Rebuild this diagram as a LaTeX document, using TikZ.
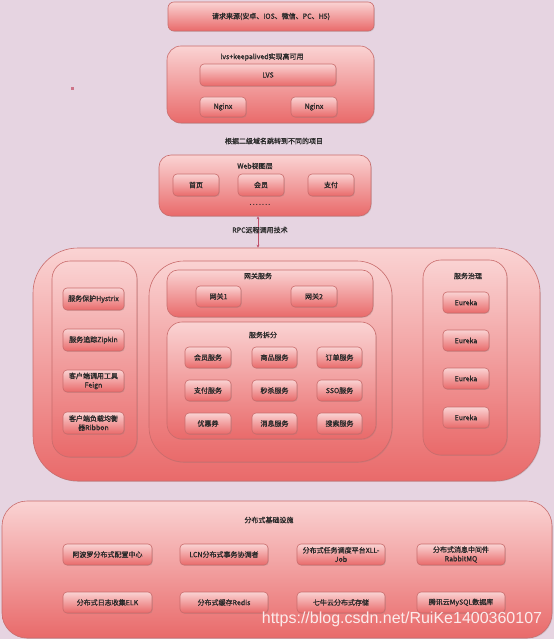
\documentclass[tikz,border=0pt]{standalone}
\usepackage{fontspec}
\setmainfont{Noto Sans CJK SC}[AutoFakeBold=1.2]
\newfontfamily\wmfont{Liberation Sans}
\usetikzlibrary{shadows,arrows.meta}
\definecolor{bg}{HTML}{E6D4E1}
\definecolor{btop}{HTML}{FAD3D3}
\definecolor{bbot}{HTML}{E96A6A}
\definecolor{bline}{HTML}{C96C6C}
\definecolor{txt}{HTML}{2A2A2A}
\definecolor{arr}{HTML}{C0506A}
\tikzset{
  frame/.style={draw=bline, line width=0.6pt, top color=btop, bottom color=bbot, inner sep=0pt,
    drop shadow={shadow xshift=0.8pt, shadow yshift=-0.8pt, opacity=0.25}},
  btn/.style={frame, rounded corners=4pt, font=\fontsize{7}{9}\selectfont\bfseries, text=txt, align=center},
  lbl/.style={font=\fontsize{7}{9}\selectfont\bfseries, text=txt, inner sep=0pt},
}
\newcommand\bx[7][]{\node[#1, minimum width={#5pt-#3pt}, minimum height={#6pt-#4pt}] (#2) at ({(#3+#5)/2},{(#4+#6)/2}) {#7};}
\begin{document}
\begin{tikzpicture}[x=1pt,y=-1pt]
\useasboundingbox (0,0) rectangle (554,639);
\fill[bg] (0,0) rectangle (554,639);
\fill[arr!80] (71,87) rectangle (74,90);

% top
\bx[frame, rounded corners=6pt, font=\fontsize{7}{9}\selectfont\bfseries, text=txt]{src}{168}{2}{374}{31}{请求来源(安卓、IOS、微信、PC、H5)}

% lvs
\bx[frame, rounded corners=14pt]{lvsbox}{167}{46}{374}{123}{}
\node[lbl] (lvst) at (262,57) {lvs+keepalived实现高可用};
\bx[btn]{lvs}{200}{64}{336}{86}{LVS}
\bx[btn]{ng1}{200}{97}{246}{117}{Nginx}
\bx[btn]{ng2}{291}{97}{337}{117}{Nginx}

\node[lbl] (jump) at (274,141) {根据二级域名跳转到不同的项目};

% web
\bx[frame, rounded corners=12pt]{web}{159}{155}{371}{216}{}
\node[lbl] (webt) at (255,166) {Web视图层};
\bx[btn]{home}{173}{174}{219}{196}{首页}
\bx[btn]{member}{238}{174}{284}{196}{会员}
\bx[btn]{pay}{308}{174}{354}{196}{支付}
\node[font=\wmfont\fontsize{7}{9}\selectfont\bfseries, text=txt, inner sep=0pt] (dots) at (260,205) {.\,.\,.\,.\,.\,.\,.};

% big middle
\bx[frame, rounded corners=45pt]{big}{33}{248}{540}{481}{}
\coordinate (rx) at (258,0);
\draw[arr, line width=0.7pt, {Stealth[length=3pt,width=3pt]}-{Stealth[length=3pt,width=3pt]}] (web.south -| rx) -- (big.north -| rx);
\node[lbl] (rpc) at (260,230) {RPC远程调用技术};

% left column
\bx[frame, rounded corners=18pt]{lcol}{52}{261}{137}{457}{}
\bx[btn]{hys}{63}{288}{124}{310}{服务保护Hystrix}
\bx[btn]{zip}{63}{329}{124}{351}{服务追踪Zipkin}
\bx[btn]{feign}{63}{370}{124}{392}{客户端调用工具\\Feign}
\bx[btn]{ribbon}{63}{412}{124}{434}{客户端负载均衡\\器Ribbon}

% middle column
\bx[frame, rounded corners=35pt]{mcol}{149}{261}{392}{462}{}
\bx[frame, rounded corners=11pt]{gw}{167}{270}{373}{317}{}
\node[lbl] (gwt) at (258,276) {网关服务};
\bx[btn]{gw1}{196}{286}{241}{307}{网关1}
\bx[btn]{gw2}{291}{286}{337}{307}{网关2}
\bx[frame, rounded corners=15pt]{split}{167}{322}{376}{439}{}
\node[lbl] (splitt) at (263,335) {服务拆分};
\bx[btn]{s1}{185}{347}{231}{368}{会员服务}
\bx[btn]{s2}{252}{347}{297}{368}{商品服务}
\bx[btn]{s3}{317}{347}{362}{368}{订单服务}
\bx[btn]{s4}{185}{380}{231}{401}{支付服务}
\bx[btn]{s5}{252}{380}{297}{401}{秒杀服务}
\bx[btn]{s6}{317}{380}{362}{401}{SSO服务}
\bx[btn]{s7}{185}{413}{231}{434}{优惠券}
\bx[btn]{s8}{252}{413}{297}{434}{消息服务}
\bx[btn]{s9}{317}{413}{362}{434}{搜索服务}

% right column
\bx[frame, rounded corners=18pt]{rcol}{423}{260}{507}{455}{}
\node[lbl] (rcolt) at (468,276) {服务治理};
\bx[btn]{e1}{443}{292}{489}{313}{Eureka}
\bx[btn]{e2}{443}{330}{489}{351}{Eureka}
\bx[btn]{e3}{443}{368}{489}{389}{Eureka}
\bx[btn]{e4}{443}{407}{489}{428}{Eureka}

% bottom
\bx[frame, rounded corners=25pt]{base}{2}{501}{552}{638}{}
\node[lbl] (baset) at (269,520) {分布式基础设施};
\bx[btn]{b1}{63}{544}{152}{565}{阿波罗分布式配置中心}
\bx[btn]{b2}{180}{544}{268}{565}{LCN分布式事务协调者}
\bx[btn]{b3}{297}{544}{385}{565}{分布式任务调度平台XLL-\\Job}
\bx[btn]{b4}{417}{544}{505}{565}{分布式消息中间件\\RabbitMQ}
\bx[btn]{b5}{63}{592}{152}{613}{分布式日志收集ELK}
\bx[btn]{b6}{180}{592}{268}{613}{分布式缓存Redis}
\bx[btn]{b7}{297}{592}{385}{613}{七牛云分布式存储}
\bx[btn]{b8}{417}{592}{505}{613}{腾讯云MySQL数据库}

\node[font=\wmfont\fontsize{16}{16}\selectfont, text=white, opacity=0.85, inner sep=0pt] (wm) at (402,619) {https://blog.csdn.net/RuiKe1400360107};
\end{tikzpicture}
\end{document}
